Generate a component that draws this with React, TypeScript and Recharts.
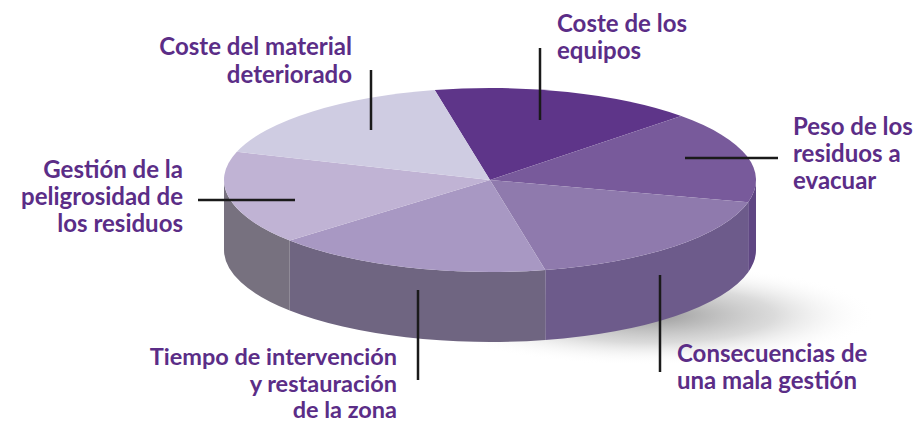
import React from 'react';
import { PieChart, Pie, Cell } from 'recharts';

// ---- data ----
const categories = [
  'Coste de los equipos',
  'Peso de los residuos a evacuar',
  'Consecuencias de una mala gestión',
  'Tiempo de intervención y restauración de la zona',
  'Gestión de la peligrosidad de los residuos',
  'Coste del material deteriorado',
];
const values = [16.1, 16.1, 17.8, 16.9, 16.4, 16.7];
const labelTexts = [
  ['Coste de los', 'equipos'],
  ['Peso de los', 'residuos a', 'evacuar'],
  ['Consecuencias de', 'una mala gestión'],
  ['Tiempo de intervención', 'y restauración', 'de la zona'],
  ['Gestión de la', 'peligrosidad de', 'los residuos'],
  ['Coste del material', 'deteriorado'],
];

const data = categories.map((name, i) => ({ name, value: values[i] }));

// ---- styles / layout ----
const TOP_COLORS = ['#5E3589', '#785A9B', '#8F7AAD', '#A898C3', '#C0B3D4', '#CFCCE2'];
const WALL_COLORS = ['#4E2C78', '#5F4683', '#6D5B8B', '#6F6581', '#77717F', '#8A86A0'];
const TEXT_COLOR = '#5B2D87';
const K = 92 / 266;
const DEPTH = 70;

const LAYOUT = [
  { line: [540, 120, 540, 48], tx: 557, ty: 22, anchor: 'start', lh: 27 },
  { line: [685, 158, 778, 158], tx: 793, ty: 125, anchor: 'start', lh: 27 },
  { line: [660, 275, 660, 372], tx: 677, ty: 352, anchor: 'start', lh: 27 },
  { line: [418, 290, 418, 380], tx: 397, ty: 356, anchor: 'end', lh: 26.5 },
  { line: [295, 200, 198, 200], tx: 183, ty: 168, anchor: 'end', lh: 27 },
  { line: [371, 130, 371, 70], tx: 352, ty: 45, anchor: 'end', lh: 28 },
];

const RAD = Math.PI / 180;

const renderSlice = (props: any) => {
  const { cx, cy, outerRadius, startAngle, endAngle, index } = props;
  const R = outerRadius;
  const RY = R * K;
  const pt = (a: number, dy = 0) => [cx + R * Math.cos(a * RAD), cy - RY * Math.sin(a * RAD) + dy];
  const s = Math.max(startAngle, endAngle);
  const e = Math.min(startAngle, endAngle);
  const [sx, sy] = pt(s);
  const [ex, ey] = pt(e);
  const large = s - e > 180 ? 1 : 0;
  const top = `M${cx},${cy} L${sx},${sy} A${R},${RY} 0 ${large} 1 ${ex},${ey} Z`;

  const walls: string[] = [];
  for (let k = -2; k <= 1; k++) {
    const lo = Math.max(e, -180 + 360 * k);
    const hi = Math.min(s, 360 * k);
    if (hi - lo > 0.01) {
      const [ax, ay] = pt(hi);
      const [bx, by] = pt(lo);
      const [cx2, cy2] = pt(lo, DEPTH);
      const [dx2, dy2] = pt(hi, DEPTH);
      walls.push(
        `M${ax},${ay} A${R},${RY} 0 0 1 ${bx},${by} L${cx2},${cy2} A${R},${RY} 0 0 0 ${dx2},${dy2} Z`
      );
    }
  }

  const lay = LAYOUT[index];
  const lines = labelTexts[index];
  return (
    <g key={`slice-${index}`}>
      {index === 0 && (
        <g>
          <defs>
            <radialGradient id="pieShadow" cx="50%" cy="50%" r="50%">
              <stop offset="0%" stopColor="#8c8c8c" stopOpacity={0.9} />
              <stop offset="55%" stopColor="#bdbdbd" stopOpacity={0.55} />
              <stop offset="100%" stopColor="#ffffff" stopOpacity={0} />
            </radialGradient>
          </defs>
          <ellipse cx={cx + 160} cy={cy + 135} rx={R * 0.85} ry={RY * 0.55} fill="url(#pieShadow)" />
        </g>
      )}
      {walls.map((d, j) => (
        <path key={j} d={d} fill={WALL_COLORS[index]} fillOpacity={1} stroke="none" />
      ))}
      <path d={top} fill={TOP_COLORS[index]} fillOpacity={1} stroke="none" />
      <line
        x1={lay.line[0]}
        y1={lay.line[1]}
        x2={lay.line[2]}
        y2={lay.line[3]}
        stroke="#1a1a1a"
        strokeWidth={2.5}
      />
      <text
        x={lay.tx}
        y={lay.ty}
        textAnchor={lay.anchor as any}
        fill={TEXT_COLOR}
        fontFamily="Lato, 'Open Sans', sans-serif"
        fontWeight={700}
        fontSize={index === 3 ? 23.5 : 24}
        dominantBaseline="central"
      >
        {lines.map((t, j) => (
          <tspan key={j} x={lay.tx} y={lay.ty + j * lay.lh}>
            {t}
          </tspan>
        ))}
      </text>
    </g>
  );
};

export default function App() {
  return (
    <div style={{ position: 'absolute', left: 0, top: 0, width: 918, height: 423, background: '#fff' }}>
      <PieChart width={918} height={423} margin={{ top: 0, right: 0, bottom: 0, left: 0 }}>
        <Pie
          data={data}
          dataKey="value"
          nameKey="name"
          cx={490}
          cy={180}
          outerRadius={266}
          startAngle={102}
          endAngle={-258}
          stroke="none"
          fillOpacity={0}
          isAnimationActive={false}
          label={renderSlice}
          labelLine={false}
        >
          {data.map((d, i) => (
            <Cell key={d.name} fill={TOP_COLORS[i]} />
          ))}
        </Pie>
      </PieChart>
    </div>
  );
}
